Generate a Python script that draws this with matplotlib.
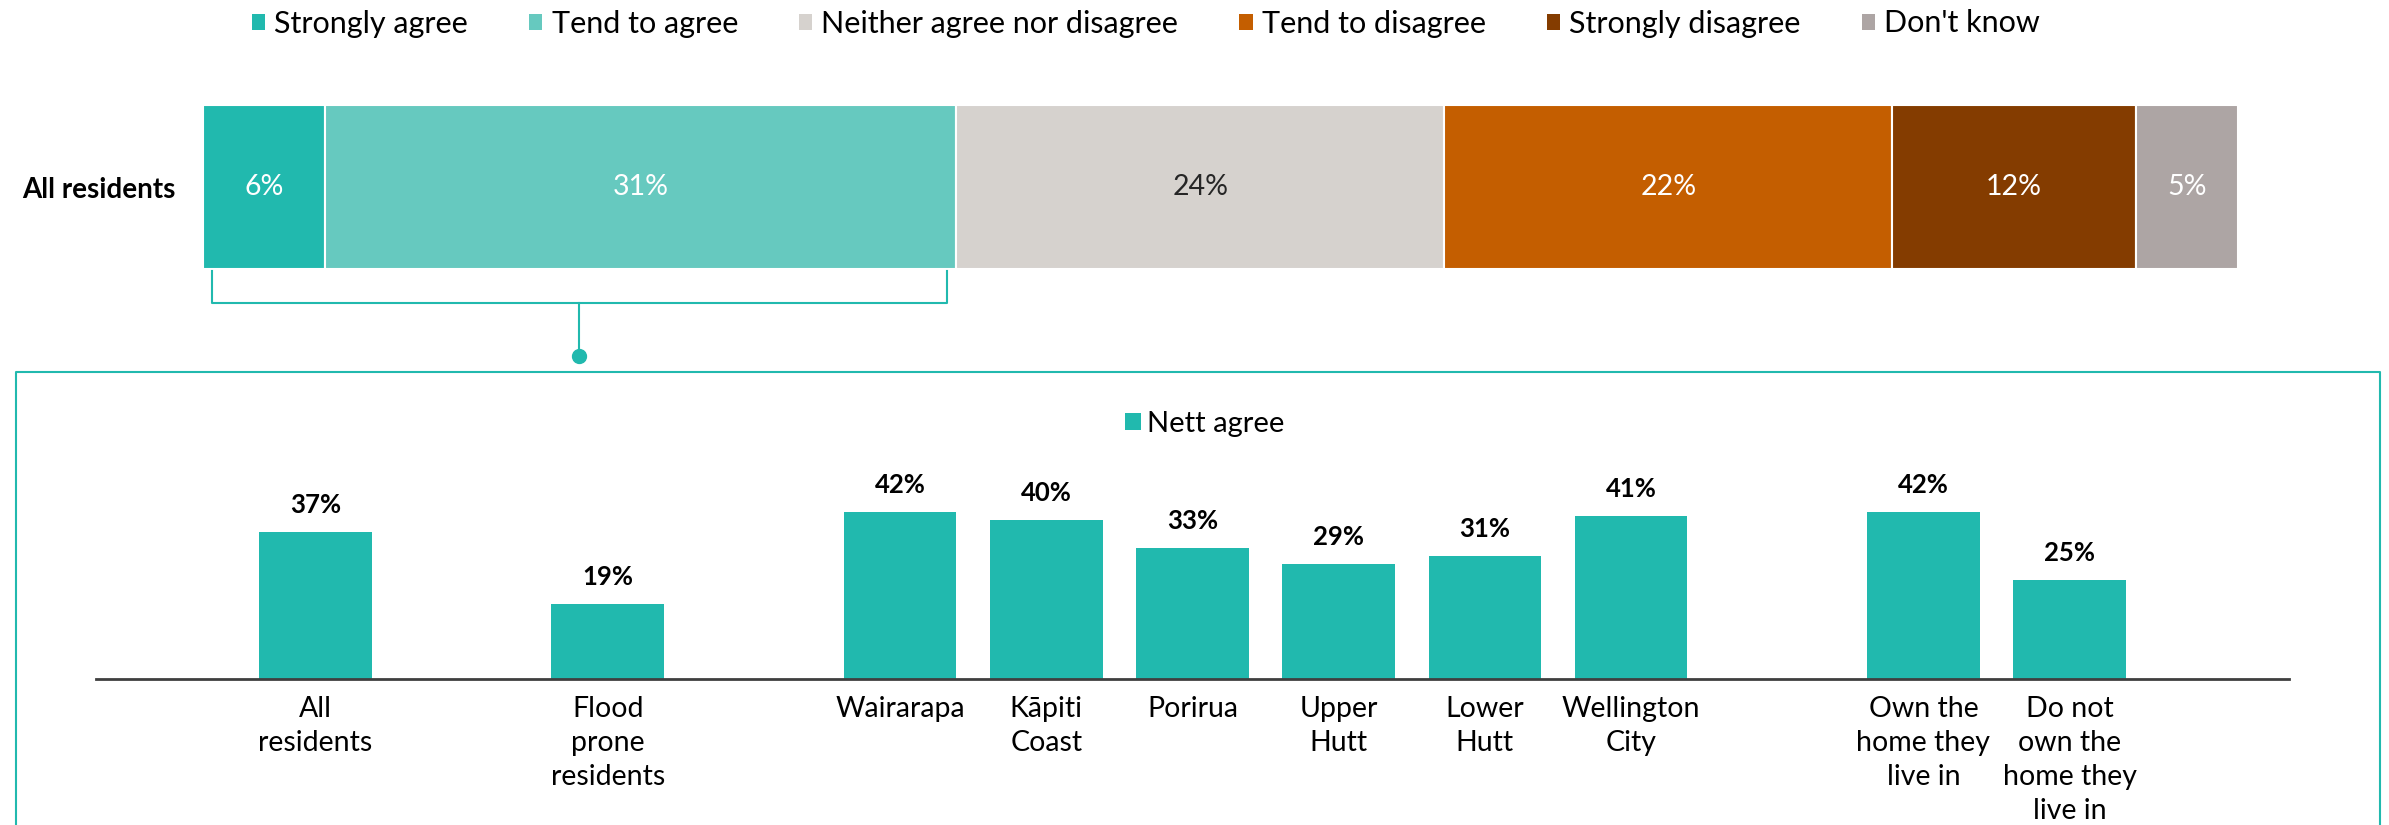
import numpy as np
import matplotlib.pyplot as plt
from matplotlib.lines import Line2D
from matplotlib.patches import Patch

plt.rcParams['font.family'] = ['Lato', 'DejaVu Sans']

# response distribution, all residents
responses = ["Strongly agree", "Tend to agree", "Neither agree nor disagree",
             "Tend to disagree", "Strongly disagree", "Don't know"]
shares = [6, 31, 24, 22, 12, 5]
resp_colors = ["#21B9AE", "#66C9BF", "#D6D2CE", "#C45E00", "#843C00", "#ADA5A4"]
text_colors = ["white", "white", "#262626", "white", "white", "white"]

# nett agree by group, empty labels leave a gap between groups
groups = ["All\nresidents", "", "Flood\nprone\nresidents", "",
          "Wairarapa", "Kāpiti\nCoast", "Porirua", "Upper\nHutt", "Lower\nHutt",
          "Wellington\nCity", "",
          "Own the\nhome they\nlive in", "Do not\nown the\nhome they\nlive in"]
nett_agree = [37, np.nan, 19, np.nan, 42, 40, 33, 29, 31, 41, np.nan, 42, 25]

teal = "#21B9AE"
W, H = 2389, 825

fig = plt.figure(figsize=(W / 100, H / 100), dpi=100)


def px_box(x0, y0, x1, y1):
    # pixel box (from top-left) -> figure fraction rect
    return [x0 / W, 1 - y1 / H, (x1 - x0) / W, (y1 - y0) / H]


# --- stacked bar ---
ax_top = fig.add_axes(px_box(203, 105, 2238, 269))
left = 0
for name, v, c, tc in zip(responses, shares, resp_colors, text_colors):
    ax_top.barh(0, v, left=left, height=1, color=c, edgecolor="white", linewidth=1.5)
    ax_top.text(left + v / 2, 0, f"{v}%", ha="center", va="center", color=tc, fontsize=20.5)
    left += v
ax_top.set_xlim(0, 100)
ax_top.set_ylim(-0.5, 0.5)
ax_top.set_xticks([])
ax_top.set_yticks([0], ["All residents"], fontweight="bold", fontsize=20)
ax_top.tick_params(axis="y", length=0, pad=20)
for s in ax_top.spines.values():
    s.set_visible(False)

top_handles = [Patch(facecolor=c, label=n) for n, c in zip(responses, resp_colors)]
fig.legend(handles=top_handles, ncol=6, loc="center", bbox_to_anchor=(1146 / W, 1 - 23.5 / H),
           frameon=False, fontsize=22, handlelength=0.43, handleheight=0.43,
           handletextpad=0.3, columnspacing=2.0)

# bracket under the agree segments
agree = shares[0] + shares[1]
tr = ax_top.get_xaxis_transform()
inset = 0.45
ax_top.plot([inset, inset, agree - inset, agree - inset], [-0.01, -0.21, -0.21, -0.01],
            color=teal, lw=1.5, transform=tr, clip_on=False)
ax_top.plot([agree / 2, agree / 2], [-0.21, -0.53], color=teal, lw=1.5, transform=tr, clip_on=False)
ax_top.plot(agree / 2, -0.53, "o", ms=10, color=teal, transform=tr, clip_on=False)

# frame around the breakdown
fig.add_artist(Line2D([16 / W, 16 / W, 2380 / W, 2380 / W], [0, 1 - 372 / H, 1 - 372 / H, 0],
                      color=teal, lw=1.5))

# --- nett agree columns ---
ax = fig.add_axes(px_box(96, 679 - 50 * 3.97, 2289, 679))
x = np.arange(len(groups))
vals = np.array(nett_agree, dtype=float)
ok = ~np.isnan(vals)
bars = ax.bar(x[ok], vals[ok], width=0.77, color=teal, label="Nett agree")
for xi, v in zip(x[ok], vals[ok]):
    ax.annotate(f"{v:.0f}%", (xi, v), xytext=(0, 19.4), textcoords="offset points",
                ha="center", va="center", fontweight="bold", fontsize=18.5)
ax.set_xlim(-1.5, len(groups) + 0.5)
ax.set_ylim(0, 50)
ax.set_yticks([])
ax.set_xticks(x, groups, fontsize=20.5, linespacing=1.38)
ax.tick_params(axis="x", length=0, pad=12)
for side in ["left", "right", "top"]:
    ax.spines[side].set_visible(False)
ax.spines["bottom"].set_color("#3F3F3F")
ax.spines["bottom"].set_linewidth(2)

fig.legend(handles=[Patch(facecolor=teal, label="Nett agree")], loc="center",
           bbox_to_anchor=(1205 / W, 1 - 424 / H), frameon=False, fontsize=21,
           handlelength=0.55, handleheight=0.55, handletextpad=0.2)

fig.savefig("out.png", dpi=100)
